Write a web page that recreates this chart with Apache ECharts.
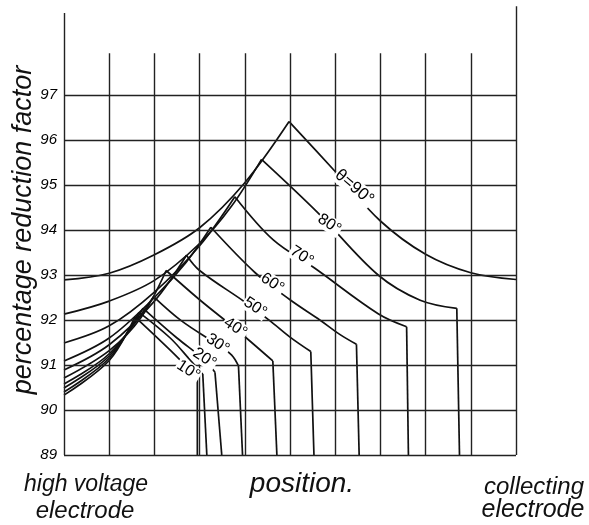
<!DOCTYPE html>
<html>
<head>
<meta charset="utf-8">
<script src="https://cdn.jsdelivr.net/npm/echarts/dist/echarts.min.js"></script>
<style>
  html, body { margin: 0; padding: 0; background: #fff; }
  #chart { width: 589px; height: 525px; }
</style>
</head>
<body>
<div id="chart"></div>
<script>
// Position across the gap in grid divisions (0 = high voltage electrode,
// 10 = collecting electrode); value = percentage reduction factor.
const yTickLabels = [89, 90, 91, 92, 93, 94, 95, 96, 97];
const xDivisions = [0, 1, 2, 3, 4, 5, 6, 7, 8, 9, 10];

// One curve per angle: rising branch, peak, falling branch and (where present)
// the vertical drop to the bottom of the scale.
const thetaLow = [[0, 90.33], [1, 91.1], [1.57, 92.07], [2.35, 91.33], [2.95, 90.72], [2.95, 89]];
const theta10 = [[0, 90.40], [1, 91.15], [1.66, 92.17], [2.35, 91.6], [2.8, 91.1], [3.07, 90.8], [3.16, 89]];
const theta20 = [[0, 90.49], [1, 91.2], [1.75, 92.26], [2.5, 91.6], [3.1, 91.12], [3.34, 90.84], [3.49, 89]];
const theta30 = [[0, 90.58], [1, 91.25], [1.98, 92.52], [2.6, 91.98], [3.4, 91.45], [3.71, 91.22], [3.86, 90.98], [3.95, 89]];
const theta40 = [[0, 90.71], [1, 91.32], [1.7, 92.05], [2.26, 93.1], [3.0, 92.45], [3.8, 91.8], [4.62, 91.09], [4.71, 89]];
const theta50 = [[0, 90.89], [1, 91.45], [2, 92.42], [2.71, 93.44], [3.0, 93.1], [4.0, 92.4], [4.56, 91.98], [5.0, 91.62], [5.46, 91.3], [5.53, 89]];
const theta60 = [[0, 91.09], [1, 91.6], [2, 92.5], [2.7, 93.28], [3.25, 94.06], [4.23, 93.05], [5.0, 92.45], [5.66, 92.0], [6.1, 91.68], [6.47, 91.46], [6.53, 89]];
const theta70 = [[0, 91.49], [1, 91.87], [2, 92.62], [3, 93.65], [3.78, 94.74], [4.63, 93.78], [5.55, 93.15], [6.95, 92.14], [7.58, 91.85], [7.62, 89]];
const theta80 = [[0, 92.13], [1, 92.42], [2, 92.88], [3, 93.7], [3.7, 94.52], [4.37, 95.57], [5.63, 94.37], [6.95, 93.0], [7.88, 92.44], [8.69, 92.26], [8.75, 89]];
const theta90 = [[0, 92.89], [1, 93.04], [2, 93.45], [3, 94.05], [4, 95.05], [4.98, 96.41], [6, 95.3], [7, 94.2], [8, 93.46], [9, 93.05], [10, 92.9]];

const curveLabelText = ['10°', '20°', '30°', '40°', '50°', '60°', '70°', '80°', 'θ=90°'];
const curveLabelAt = [[2.75, 90.88], [3.11, 91.15], [3.4, 91.47], [3.79, 91.83], [4.23, 92.28], [4.61, 92.82], [5.26, 93.42], [5.87, 94.13], [6.42, 94.95]];

const Y_MIN = 89, Y_MAX = 99, X_MIN = 0, X_MAX = 10;
const INNER_TOP = 97.93, LEFT_TOP = 98.82, RIGHT_TOP = 98.97;
const INK = '#111';
const FONT = '"Liberation Sans", "DejaVu Sans", sans-serif';

// Split a curve at its peak and at the start of its vertical drop so the
// smoothed branches keep sharp corners.
function branches(pts) {
  let peak = 0;
  pts.forEach((p, i) => { if (p[1] > pts[peak][1]) peak = i; });
  const dropEnd = pts[pts.length - 1][1] === Y_MIN;
  const fallEnd = dropEnd ? pts.length - 2 : pts.length - 1;
  const out = [
    { data: pts.slice(0, peak + 1), smooth: 0.35 },
    { data: pts.slice(peak, fallEnd + 1), smooth: 0.35 }
  ];
  if (dropEnd) out.push({ data: pts.slice(fallEnd), smooth: false });
  return out;
}

const curves = [thetaLow, theta10, theta20, theta30, theta40, theta50, theta60, theta70, theta80, theta90];
const series = [];

// grid lines
const gridLines = [];
yTickLabels.forEach(v => gridLines.push([{ coord: [X_MIN, v] }, { coord: [X_MAX, v] }]));
xDivisions.forEach(x => {
  const top = x === X_MIN ? LEFT_TOP : (x === X_MAX ? RIGHT_TOP : INNER_TOP);
  gridLines.push([{ coord: [x, Y_MIN] }, { coord: [x, top] }]);
});
series.push({
  type: 'line',
  data: [[X_MIN, Y_MIN]],
  showSymbol: false,
  lineStyle: { opacity: 0 },
  silent: true,
  z: 1,
  markLine: {
    silent: true,
    symbol: ['none', 'none'],
    label: { show: false },
    lineStyle: { color: '#222', width: 1.4, type: 'solid', opacity: 1 },
    data: gridLines
  }
});

curves.forEach(c => {
  branches(c).forEach(b => {
    series.push({
      type: 'line',
      data: b.data,
      smooth: b.smooth,
      showSymbol: false,
      silent: true,
      z: 3,
      lineStyle: { color: INK, width: 1.7 }
    });
  });
});

series.push({
  type: 'scatter',
  symbolSize: 0,
  silent: true,
  z: 10,
  itemStyle: { opacity: 1 },
  data: curveLabelAt.map((p, i) => {
    const isMain = i === curveLabelAt.length - 1;
    return {
      value: p,
      name: curveLabelText[i],
      label: { rotate: isMain ? -40 : -33, fontSize: isMain ? 17 : 16 }
    };
  }),
  label: {
    show: true,
    position: 'inside',
    formatter: p => p.name,
    color: '#000',
    opacity: 1,
    fontFamily: FONT,
    backgroundColor: '#fff',
    padding: [0, 1]
  }
});

const chart = echarts.init(document.getElementById('chart'), null, { renderer: 'canvas' });
chart.setOption({
  animation: false,
  backgroundColor: '#fff',
  grid: { left: 64, right: 73, top: 5, bottom: 70, containLabel: false, outerBoundsMode: 'none' },
  xAxis: { type: 'value', min: X_MIN, max: X_MAX, interval: 1, show: false },
  yAxis: {
    type: 'value', min: Y_MIN, max: Y_MAX, interval: 1,
    axisLine: { show: false }, axisTick: { show: false }, splitLine: { show: false },
    axisLabel: {
      margin: 7, color: '#000', fontSize: 15, fontStyle: 'italic', fontFamily: FONT,
      formatter: v => (yTickLabels.indexOf(v) >= 0 ? String(v) : '')
    },
    name: 'percentage reduction factor',
    nameLocation: 'middle',
    nameRotate: 90,
    nameGap: 27,
    nameMoveOverlap: false,
    nameTextStyle: { fontSize: 27, fontStyle: 'italic', fontFamily: FONT, color: INK }
  },
  graphic: [
    { type: 'text', x: 86, y: 485, style: { text: 'high voltage', font: 'italic 23px ' + FONT, fill: INK, textAlign: 'center', textVerticalAlign: 'middle' } },
    { type: 'text', x: 85, y: 511, style: { text: 'electrode', font: 'italic 24px ' + FONT, fill: INK, textAlign: 'center', textVerticalAlign: 'middle' } },
    { type: 'text', x: 302, y: 484, style: { text: 'position.', font: 'italic 28px ' + FONT, fill: INK, textAlign: 'center', textVerticalAlign: 'middle' } },
    { type: 'text', x: 534, y: 487, style: { text: 'collecting', font: 'italic 24px ' + FONT, fill: INK, textAlign: 'center', textVerticalAlign: 'middle' } },
    { type: 'text', x: 533, y: 510, style: { text: 'electrode', font: 'italic 25px ' + FONT, fill: INK, textAlign: 'center', textVerticalAlign: 'middle' } }
  ],
  series: series
});
</script>
</body>
</html>
